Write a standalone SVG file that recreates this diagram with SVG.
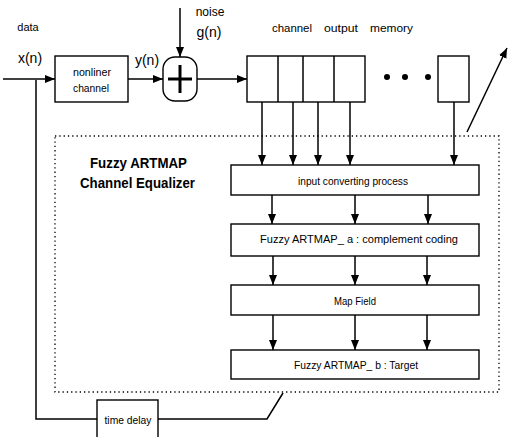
<svg xmlns="http://www.w3.org/2000/svg" width="510" height="437" viewBox="0 0 510 437">
<style>
text{font-family:"Liberation Sans",Arial,sans-serif;fill:#000}
.box{fill:#fff;stroke:#000;stroke-width:1.4}
.ln{fill:none;stroke:#000;stroke-width:1.5}
.arr{fill:none;stroke:#000;stroke-width:1.5;marker-end:url(#ah)}
.s{font-size:10.5px;text-anchor:middle}
</style>
<defs>
<marker id="ah" markerUnits="userSpaceOnUse" markerWidth="10" markerHeight="10" refX="10" refY="4" orient="auto">
<path d="M0,0 L10,4 L0,8 z" fill="#000"/>
</marker>
</defs>
<rect width="510" height="437" fill="#fff"/>
<g id="labels">
<text x="28" y="31" font-size="11" text-anchor="middle">data</text>
<text x="30" y="63" font-size="14" text-anchor="middle">x(n)</text>
<text x="147" y="65" font-size="14" text-anchor="middle">y(n)</text>
<text x="210" y="16" font-size="12" text-anchor="middle">noise</text>
<text x="209" y="37" font-size="14" text-anchor="middle">g(n)</text>
<text x="272" y="32" font-size="11.5" textLength="40" lengthAdjust="spacingAndGlyphs">channel</text>
<text x="324" y="32" font-size="11.5" textLength="34" lengthAdjust="spacingAndGlyphs">output</text>
<text x="370" y="32" font-size="11.5" textLength="43" lengthAdjust="spacingAndGlyphs">memory</text>
<text x="90" y="168" font-size="14" font-weight="bold" textLength="97" lengthAdjust="spacingAndGlyphs">Fuzzy  ARTMAP</text>
<text x="80" y="188" font-size="14" font-weight="bold" textLength="115" lengthAdjust="spacingAndGlyphs">Channel Equalizer</text>
</g>
<g id="connectors">
<line class="arr" x1="3" y1="79" x2="55" y2="79"/>
<line class="arr" x1="128" y1="79" x2="163" y2="79"/>
<line class="arr" x1="180" y1="8" x2="180" y2="57"/>
<line class="arr" x1="197" y1="79" x2="247" y2="79"/>
<polyline class="ln" points="36,80 36,419 97,419"/>
<polyline class="ln" points="158,419 267,419 283,393"/>
<line class="arr" x1="467" y1="132" x2="507" y2="48"/>
<line class="arr" x1="262" y1="102" x2="262" y2="165"/>
<line class="arr" x1="293" y1="102" x2="293" y2="165"/>
<line class="arr" x1="318" y1="102" x2="318" y2="165"/>
<line class="arr" x1="350" y1="102" x2="350" y2="165"/>
<line class="arr" x1="454" y1="102" x2="454" y2="165"/>
<line class="arr" x1="272" y1="195" x2="272" y2="224"/>
<line class="arr" x1="355" y1="195" x2="355" y2="224"/>
<line class="arr" x1="428" y1="195" x2="428" y2="224"/>
<line class="arr" x1="273" y1="256" x2="273" y2="285"/>
<line class="arr" x1="355" y1="256" x2="355" y2="285"/>
<line class="arr" x1="427" y1="256" x2="427" y2="285"/>
<line class="arr" x1="273" y1="315" x2="273" y2="350"/>
<line class="arr" x1="355" y1="315" x2="355" y2="350"/>
<line class="arr" x1="427" y1="315" x2="427" y2="350"/>
</g>
<g id="equalizer-frame">
<rect x="55" y="136" width="444" height="256" fill="none" stroke="#000" stroke-width="1.3" stroke-dasharray="1.3 3"/>
</g>
<g id="nonlinear-channel">
<rect class="box" x="55" y="56" width="73" height="46"/>
<text class="s" x="92" y="76" textLength="38" lengthAdjust="spacingAndGlyphs">nonliner</text>
<text class="s" x="91" y="92" textLength="36" lengthAdjust="spacingAndGlyphs">channel</text>
</g>
<g id="adder">
<rect class="box" x="163" y="57" width="34" height="44" rx="12" ry="12"/>
<line x1="180" y1="65" x2="180" y2="93" stroke="#000" stroke-width="3"/>
<line x1="168" y1="79" x2="192" y2="79" stroke="#000" stroke-width="3"/>
</g>
<g id="memory">
<rect class="box" x="247" y="56" width="118" height="46"/>
<line class="ln" x1="278" y1="56" x2="278" y2="102"/>
<line class="ln" x1="303" y1="56" x2="303" y2="102"/>
<line class="ln" x1="334" y1="56" x2="334" y2="102"/>
<circle cx="387" cy="77" r="3"/>
<circle cx="405" cy="77" r="3"/>
<circle cx="428" cy="77" r="3"/>
<rect class="box" x="438" y="56" width="31" height="46"/>
</g>
<g id="input-converting">
<rect class="box" x="231" y="165" width="248" height="30"/>
<text class="s" x="353" y="185" textLength="110" lengthAdjust="spacingAndGlyphs">input  converting process</text>
</g>
<g id="artmap-a">
<rect class="box" x="231" y="224" width="248" height="32"/>
<text class="s" x="359" y="243" textLength="198" lengthAdjust="spacingAndGlyphs">Fuzzy ARTMAP_ a  :  complement  coding</text>
</g>
<g id="map-field">
<rect class="box" x="231" y="285" width="248" height="30"/>
<text class="s" x="355" y="305" textLength="42" lengthAdjust="spacingAndGlyphs">Map Field</text>
</g>
<g id="artmap-b">
<rect class="box" x="231" y="350" width="248" height="29"/>
<text class="s" x="356" y="369" textLength="124" lengthAdjust="spacingAndGlyphs">Fuzzy ARTMAP_ b  :  Target</text>
</g>
<g id="time-delay">
<rect class="box" x="97" y="400" width="61" height="42"/>
<text x="128" y="424" font-size="11" text-anchor="middle" textLength="47" lengthAdjust="spacingAndGlyphs">time  delay</text>
</g>
</svg>
